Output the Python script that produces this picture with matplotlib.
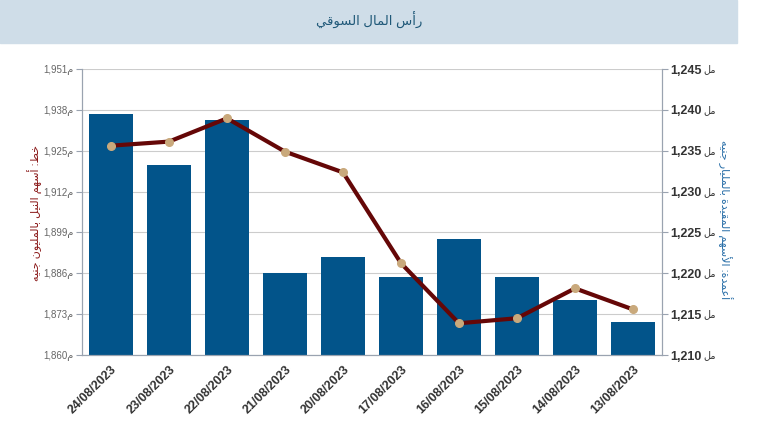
import matplotlib
matplotlib.use("Agg")
import matplotlib.pyplot as plt
import matplotlib.patches as patches
import matplotlib.transforms as mtransforms
from matplotlib.ticker import FixedLocator, FuncFormatter

plt.rcParams['font.family'] = ['Liberation Sans', 'DejaVu Sans']

# data
dates = ['24/08/2023', '23/08/2023', '22/08/2023', '21/08/2023', '20/08/2023',
         '17/08/2023', '16/08/2023', '15/08/2023', '14/08/2023', '13/08/2023']
listed_bn = [1239.5, 1233.3, 1238.7, 1220.0, 1222.0, 1219.6, 1224.2, 1219.5, 1216.7, 1214.0]
nile_mn = [1926.6, 1927.9, 1935.3, 1924.7, 1918.1, 1889.2, 1870.1, 1871.7, 1881.2, 1874.5]
left_ticks = [1860, 1873, 1886, 1899, 1912, 1925, 1938, 1951]
right_ticks = [1210, 1215, 1220, 1225, 1230, 1235, 1240, 1245]

title = "رأس المال السوقي"
left_label = "خط: أسهم النيل بالمليون جنيه"
right_label = "أعمدة: الأسهم المقيدة بالمليار جنيه"

# minimal arabic shaping (matplotlib has no bidi / joining)
FORMS = {
    'ا': ('\uFE8D', '\uFE8E', None, None),
    'أ': ('\uFE83', '\uFE84', None, None),
    'ب': ('\uFE8F', '\uFE90', '\uFE91', '\uFE92'),
    'ة': ('\uFE93', '\uFE94', None, None),
    'ت': ('\uFE95', '\uFE96', '\uFE97', '\uFE98'),
    'ج': ('\uFE9D', '\uFE9E', '\uFE9F', '\uFEA0'),
    'خ': ('\uFEA5', '\uFEA6', '\uFEA7', '\uFEA8'),
    'د': ('\uFEA9', '\uFEAA', None, None),
    'ر': ('\uFEAD', '\uFEAE', None, None),
    'س': ('\uFEB1', '\uFEB2', '\uFEB3', '\uFEB4'),
    'ط': ('\uFEC1', '\uFEC2', '\uFEC3', '\uFEC4'),
    'ع': ('\uFEC9', '\uFECA', '\uFECB', '\uFECC'),
    'ق': ('\uFED5', '\uFED6', '\uFED7', '\uFED8'),
    'ل': ('\uFEDD', '\uFEDE', '\uFEDF', '\uFEE0'),
    'م': ('\uFEE1', '\uFEE2', '\uFEE3', '\uFEE4'),
    'ن': ('\uFEE5', '\uFEE6', '\uFEE7', '\uFEE8'),
    'ه': ('\uFEE9', '\uFEEA', '\uFEEB', '\uFEEC'),
    'و': ('\uFEED', '\uFEEE', None, None),
    'ى': ('\uFEEF', '\uFEF0', None, None),
    'ي': ('\uFEF1', '\uFEF2', '\uFEF3', '\uFEF4'),
}
LAMALEF = {'ا': ('\uFEFB', '\uFEFC'), 'أ': ('\uFEF7', '\uFEF8')}


def ar(s):
    res = []
    i = 0
    n = len(s)
    while i < n:
        c = s[i]
        if c not in FORMS:
            res.append(c)
            i += 1
            continue
        prev = s[i - 1] if i > 0 else None
        jp = prev in FORMS and FORMS[prev][2] is not None
        nxt = s[i + 1] if i + 1 < n else None
        if c == 'ل' and nxt in LAMALEF:
            res.append(LAMALEF[nxt][1 if jp else 0])
            i += 2
            continue
        jn = FORMS[c][2] is not None and nxt in FORMS
        iso, fin, ini, med = FORMS[c]
        if jp and jn:
            g = med
        elif jp:
            g = fin
        elif jn:
            g = ini
        else:
            g = iso
        res.append(g)
        i += 1
    return ''.join(reversed(res))


fig = plt.figure(figsize=(7.75, 4.38), dpi=100)
fig.patches.append(patches.Rectangle((0, 1 - 43 / 438), 737 / 775, 43 / 438,
                                     transform=fig.transFigure, color='#cfdde8', zorder=0))
fig.text(369 / 775, 1 - 20 / 438, ar(title), ha='center', va='center',
         fontsize=9.5, color='#1f5878')

ax = fig.add_axes([82 / 775, 1 - 355 / 438, 580 / 775, 286 / 438])
ax2 = ax.twinx()

x = list(range(len(dates)))

# bars on the right axis (billions)
ax2.bar(x, listed_bn, width=0.75, color='#02548a', zorder=2)
ax2.set_ylim(1210, 1245)
ax2.yaxis.set_major_locator(FixedLocator(right_ticks))
ax2.yaxis.set_major_formatter(FuncFormatter(lambda v, p: f"{v:,.0f}"))
ax2.tick_params(axis='y', labelsize=9, colors='#333333', length=4, pad=2)
for lab in ax2.get_yticklabels():
    lab.set_fontweight('bold')
ax2.tick_params(axis='y', color='#9aa3b0')
# small unit suffix after each right tick number
suf_tr = mtransforms.blended_transform_factory(ax2.transAxes, ax2.transData) + \
    mtransforms.ScaledTranslation(41 / 100, 0, fig.dpi_scale_trans)
for t in right_ticks:
    ax2.text(1, t, ar("مل"), transform=suf_tr, ha='left', va='center',
             fontsize=7, color='#333333', clip_on=False)

# line on the left axis (millions), drawn above bars
ax.set_zorder(ax2.get_zorder() + 1)
ax.patch.set_visible(False)
ax.plot(x, nile_mn, color='#650707', linewidth=3, zorder=3,
        marker='o', markersize=5.5, markerfacecolor='#c9a97c', markeredgecolor='#c9a97c')
ax.set_ylim(1860, 1951)
ax.yaxis.set_major_locator(FixedLocator(left_ticks))
ax.yaxis.set_major_formatter(FuncFormatter(lambda v, p: f"{v:,.0f}" + ar("م")))
ax.tick_params(axis='y', labelsize=7, colors='#666666', length=4, pad=2)
ax.tick_params(axis='y', color='#9aa3b0')

ax2.yaxis.grid(True, color='#cccccc', linewidth=0.8, zorder=0)
ax2.set_axisbelow(True)

ax.set_xlim(-0.5, len(dates) - 0.5)
ax.set_xticks(x)
ax.set_xticklabels(dates, rotation=45, ha='right', rotation_mode='anchor',
                   fontsize=9, fontweight='bold', color='#333333')
ax.tick_params(axis='x', length=0, pad=6)

for a in (ax, ax2):
    a.spines['top'].set_visible(False)
    for s in ('left', 'right', 'bottom'):
        a.spines[s].set_color('#9aa3b0')

fig.text(35 / 775, 1 - 213 / 438, ar(left_label), rotation=90, ha='center', va='center',
         fontsize=8, color='#8b1a1a')
fig.text(725 / 775, 1 - 220 / 438, ar(right_label), rotation=270, ha='center', va='center',
         fontsize=8, color='#2a6fa8')

fig.savefig('out.png', dpi=100)
